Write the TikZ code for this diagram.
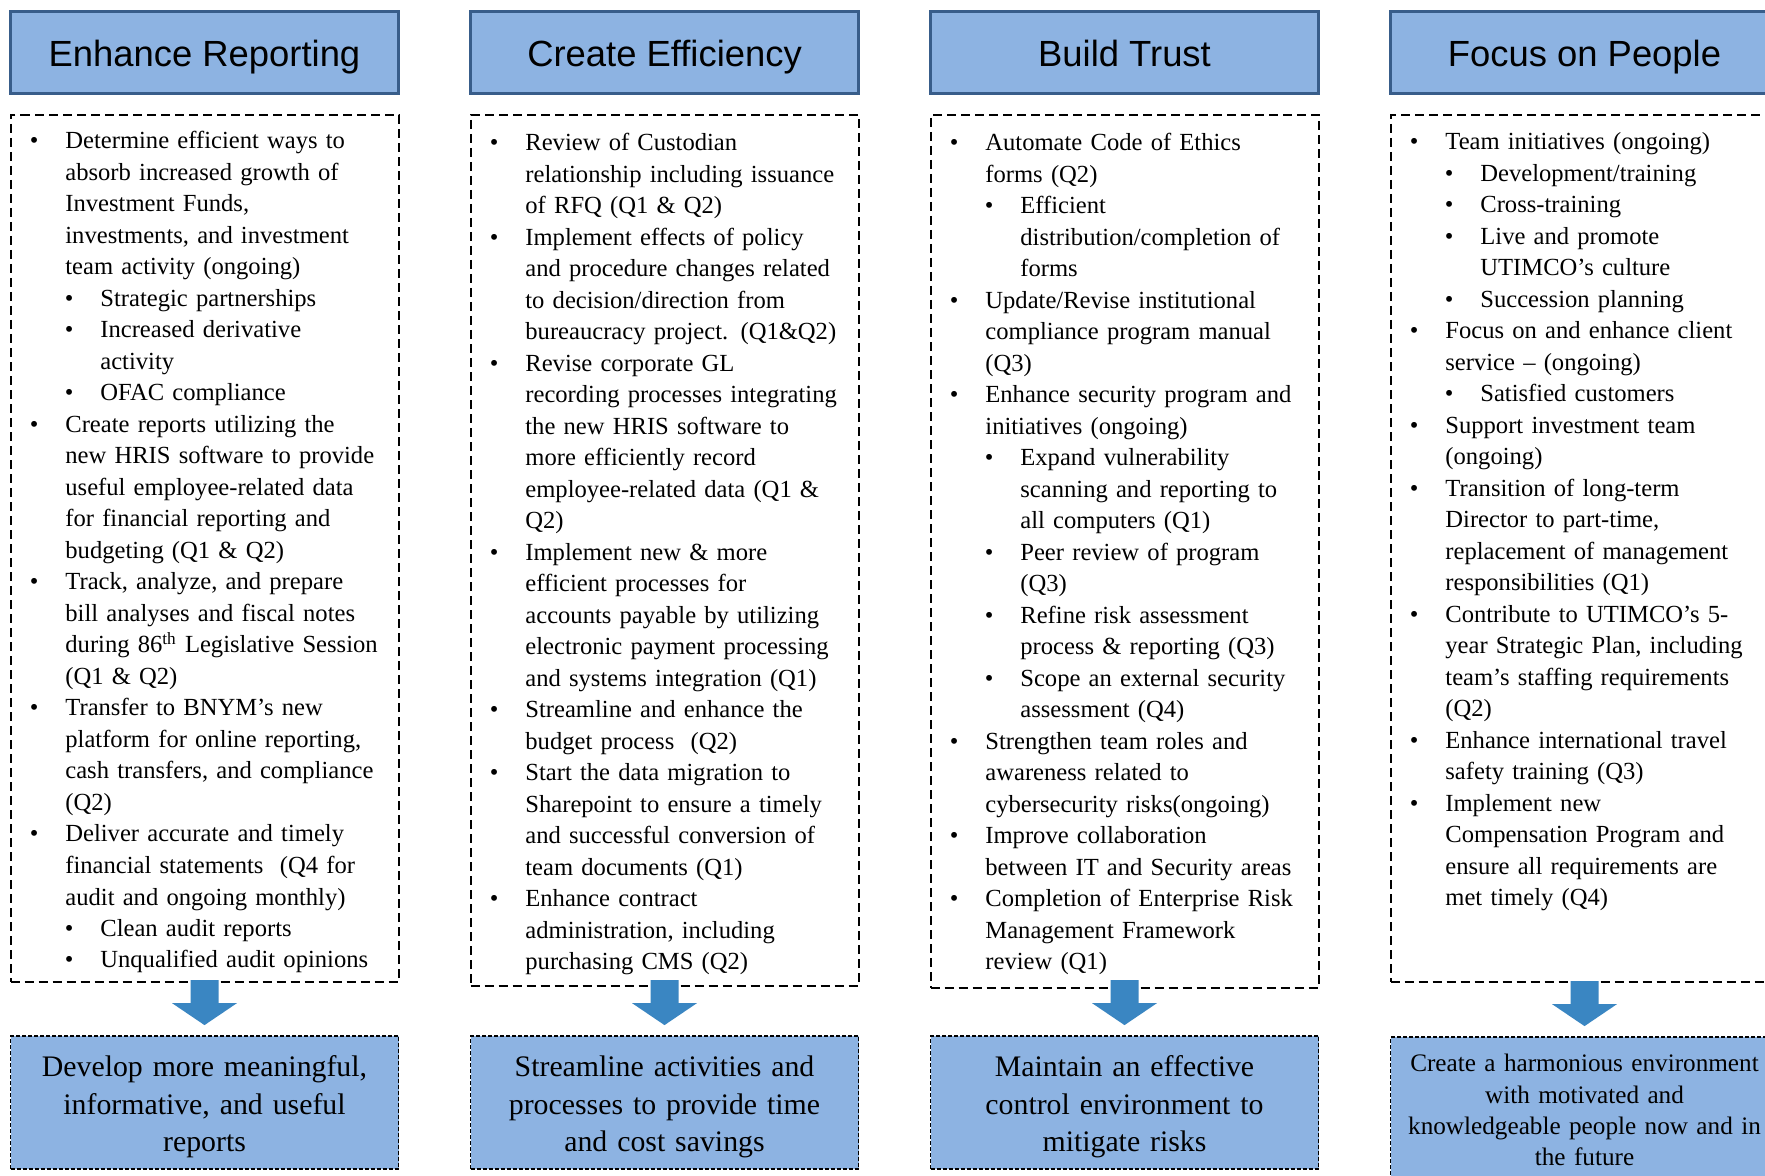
\documentclass[tikz,border=0pt]{standalone}
\usepackage{fontspec}
\setmainfont{Liberation Serif}
\setsansfont{Liberation Sans}
\usetikzlibrary{positioning,calc}

\definecolor{boxblue}{HTML}{8DB3E2}
\definecolor{headline}{HTML}{385D8A}
\definecolor{arrowblue}{HTML}{3A86C2}

\newcommand{\toppoint}[1]{\noindent\hangindent=17.75pt\hangafter=1\makebox[17.75pt][l]{\textbullet}#1\par}
\newcommand{\subpoint}[1]{\noindent\hangindent=35.25pt\hangafter=1\makebox[35.25pt][l]{\hspace{17.5pt}\textbullet}#1\par}

\begin{document}
\begin{tikzpicture}[x=0.5pt, y=-0.5pt,
    head/.style={rectangle, draw=headline, line width=1.5pt, fill=boxblue,
        minimum width=194pt, minimum height=41pt, text centered,
        text height=14pt, text depth=0pt,
        font=\sffamily\fontsize{18.2}{22}\selectfont},
    listbox/.style={rectangle, draw, line width=1pt, dash pattern=on 4.5pt off 2.5pt,
        minimum width=194pt},
    points/.style={anchor=base west, inner sep=0pt, text width=200pt, align=left,
        font=\fontsize{12.3}{15.75}\selectfont},
    goal/.style={rectangle, draw, line width=0.9pt, dash pattern=on 2pt off 1pt,
        fill=boxblue, minimum width=194pt, minimum height=66.5pt, inner sep=0pt,
        text width=190pt, align=center, font=\fontsize{14.9}{18.8}\selectfont}
]
\useasboundingbox (0,0) rectangle (1765,1176);

\node [head] (head1) at (204.5,53) {Enhance Reporting};
\node [head] (head2) at (664.5,53) {Create Efficiency};
\node [head] (head3) at (1124.5,53) {Build Trust};
\node [head] (head4) at (1584.5,53) {Focus on People};

\node [listbox, minimum height=433.5pt] (list1) at (204.5,548.5) {};
\node [listbox, minimum height=435.5pt] (list2) at (664.5,550.5) {};
\node [listbox, minimum height=436.5pt] (list3) at (1124.5,551.5) {};
\node [listbox, minimum height=433.5pt] (list4) at (1584.5,548.5) {};

\node [points] (pts1) at (29.5,149) {%
\toppoint{Determine efficient ways to\newline absorb increased growth of\newline
Investment Funds,\newline investments, and investment\newline team activity (ongoing)}
\subpoint{Strategic partnerships}
\subpoint{Increased derivative\newline activity}
\subpoint{OFAC compliance}
\toppoint{Create reports utilizing the\newline new HRIS software to provide\newline
useful employee-related data\newline for financial reporting and\newline budgeting (Q1 \& Q2)}
\toppoint{Track, analyze, and prepare\newline bill analyses and fiscal notes\newline
during 86\textsuperscript{th} Legislative Session\newline (Q1 \& Q2)}
\toppoint{Transfer to BNYM’s new\newline platform for online reporting,\newline
cash transfers, and compliance\newline (Q2)}
\toppoint{Deliver accurate and timely\newline financial statements~ (Q4 for\newline
audit and ongoing monthly)}
\subpoint{Clean audit reports}
\subpoint{Unqualified audit opinions}};

\node [points] (pts2) at (489.5,151) {%
\toppoint{Review of Custodian\newline relationship including issuance\newline of RFQ (Q1 \& Q2)}
\toppoint{Implement effects of policy\newline and procedure changes related\newline
to decision/direction from\newline bureaucracy project. (Q1\&Q2)}
\toppoint{Revise corporate GL\newline recording processes integrating\newline
the new HRIS software to\newline more efficiently record\newline employee-related data (Q1 \&\newline Q2)}
\toppoint{Implement new \& more\newline efficient processes for\newline
accounts payable by utilizing\newline electronic payment processing\newline
and systems integration (Q1)}
\toppoint{Streamline and enhance the\newline budget process~ (Q2)}
\toppoint{Start the data migration to\newline Sharepoint to ensure a timely\newline
and successful conversion of\newline team documents (Q1)}
\toppoint{Enhance contract\newline administration, including\newline purchasing CMS (Q2)}};

\node [points] (pts3) at (949.5,151) {%
\toppoint{Automate Code of Ethics\newline forms (Q2)}
\subpoint{Efficient\newline distribution/completion of\newline forms}
\toppoint{Update/Revise institutional\newline compliance program manual\newline (Q3)}
\toppoint{Enhance security program and\newline initiatives (ongoing)}
\subpoint{Expand vulnerability\newline scanning and reporting to\newline all computers (Q1)}
\subpoint{Peer review of program\newline (Q3)}
\subpoint{Refine risk assessment\newline process \& reporting (Q3)}
\subpoint{Scope an external security\newline assessment (Q4)}
\toppoint{Strengthen team roles and\newline awareness related to\newline cybersecurity risks(ongoing)}
\toppoint{Improve collaboration\newline between IT and Security areas}
\toppoint{Completion of Enterprise Risk\newline Management Framework\newline review (Q1)}};

\node [points] (pts4) at (1409.5,150) {%
\toppoint{Team initiatives (ongoing)}
\subpoint{Development/training}
\subpoint{Cross-training}
\subpoint{Live and promote\newline UTIMCO’s culture}
\subpoint{Succession planning}
\toppoint{Focus on and enhance client\newline service – (ongoing)}
\subpoint{Satisfied customers}
\toppoint{Support investment team\newline (ongoing)}
\toppoint{Transition of long-term\newline Director to part-time,\newline
replacement of management\newline responsibilities (Q1)}
\toppoint{Contribute to UTIMCO’s 5-\newline year Strategic Plan, including\newline
team’s staffing requirements\newline (Q2)}
\toppoint{Enhance international travel\newline safety training (Q3)}
\toppoint{Implement new\newline Compensation Program and\newline
ensure all requirements are\newline met timely (Q4)}};

\node [goal] (goal1) at (204.5,1102.5) {\rule{0pt}{15pt}Develop more meaningful,\\ informative, and useful\\ reports};
\node [goal] (goal2) at (664.5,1102.5) {\rule{0pt}{15pt}Streamline activities and\\ processes to provide time\\ and cost savings};
\node [goal] (goal3) at (1124.5,1102.5) {\rule{0pt}{15pt}Maintain an effective\\ control environment to\\ mitigate risks};
\node [goal, minimum height=73pt, font=\fontsize{12.6}{15.6}\selectfont] (goal4) at (1584.5,1110)
    {Create a harmonious environment\\ with motivated and\\ knowledgeable people now and in\\ the future};

\foreach \n in {1,...,4}
    \fill [arrowblue, shift={(goal\n.north)}] (-14,-55) -- (14,-55) -- (14,-32) -- (32.5,-32)
        -- (0,-10) -- (-32.5,-32) -- (-14,-32) -- cycle;

\end{tikzpicture}
\end{document}
